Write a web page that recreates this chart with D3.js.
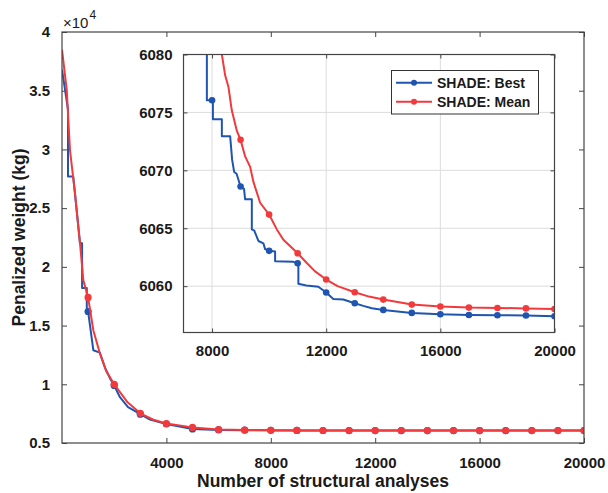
<!DOCTYPE html>
<html>
<head>
<meta charset="utf-8">
<script src="https://cdn.jsdelivr.net/npm/d3@7"></script>
<style>
  body { margin: 0; background: #fff; }
  text { font-family: "Liberation Sans", Arial, Helvetica, sans-serif; font-weight: bold; fill: #1a1a1a; }
</style>
</head>
<body>
<div id="chart"></div>
<script>
// ---------------------------------------------------------------- data (kg)
var bestIter = [0, 230, 230, 430, 690, 770, 770, 950, 950, 1000, 1200, 1450, 1650, 1840, 2000, 2220, 2530, 3000, 3370, 4000,
                5000, 6000, 7000, 7819, 7819, 8000, 8030, 8030, 8344, 8344, 8634, 8705, 8775, 8860, 9000, 9120, 9160, 9394,
                9394, 9480, 9625, 9800, 9860, 10000, 10210, 10210, 10850, 11000, 11025, 11025, 11300, 11725, 12000, 12250,
                12600, 13000, 13300, 13600, 14000, 15000, 16000, 17000, 18000, 19000, 20000];
var bestVal  = [36800, 33400, 27700, 27700, 22000, 22000, 18200, 18200, 16500, 16200, 12900, 12700, 11400, 10500, 9900, 8900,
                8050, 7450, 7000, 6620, 6200, 6110, 6090, 6084, 6076.05, 6076.05, 6076.0, 6074.4, 6074.4, 6072.95, 6072.95,
                6070.9, 6069.86, 6069.7, 6068.6, 6068.4, 6067.5, 6067.5, 6064.9, 6064.8, 6063.9, 6063.7, 6063.2, 6063.05,
                6063.0, 6062.15, 6062.1, 6061.98, 6061.95, 6060.2, 6060.05, 6059.95, 6059.45, 6058.9, 6058.85, 6058.52,
                6058.3, 6058.1, 6057.95, 6057.69, 6057.57, 6057.51, 6057.49, 6057.47, 6057.4];

var meanIter = [0, 180, 306, 498, 690, 816, 1000, 1200, 1455, 1700, 2000, 2500, 3000, 3500, 4000, 5000, 6000, 7000, 8000,
                8344, 8460, 8575, 8690, 8870, 9000, 9160, 9335, 9450, 9685, 10000, 10270, 10500, 11000, 11320, 11600,
                12000, 12400, 13000, 13500, 14000, 15000, 16000, 17000, 18000, 19000, 20000];
var meanVal  = [38500, 35100, 29950, 26260, 22000, 18870, 17400, 14600, 12600, 11100, 10000, 8500, 7530, 6980, 6660, 6330,
                6150, 6105, 6086, 6080, 6078.2, 6077.2, 6075.2, 6073.4, 6072.63, 6071.2, 6070.3, 6069.0, 6067.2, 6066.18,
                6064.9, 6064.0, 6062.84, 6062.0, 6061.3, 6060.57, 6060.0, 6059.47, 6059.1, 6058.84, 6058.41, 6058.24,
                6058.15, 6058.12, 6058.08, 6058.03];

var markerIter = [1000, 2000, 3000, 4000, 5000, 6000, 7000, 8000, 9000, 10000, 11000, 12000, 13000, 14000, 15000,
                  16000, 17000, 18000, 19000, 20000];

var mainXTicks  = [4000, 8000, 12000, 16000, 20000];
var mainYTicks  = [5000, 10000, 15000, 20000, 25000, 30000, 35000, 40000];
var insetXTicks = [8000, 12000, 16000, 20000];
var insetYTicks = [6060, 6065, 6070, 6075, 6080];

var seriesNames = ["SHADE: Best", "SHADE: Mean"];
var seriesColors = ["#1f55b0", "#f23a3c"];

// ---------------------------------------------------------------- setup
var W = 608, H = 493;
var svg = d3.select("#chart").append("svg").attr("width", W).attr("height", H);

var best = bestIter.map(function(d, i) { return {x: d, y: bestVal[i]}; });
var mean = meanIter.map(function(d, i) { return {x: d, y: meanVal[i]}; });
var series = [best, mean];

function drawPanel(g, box, xDom, yDom, xTicks, yTicks, fmtY, grid, id, tickLen, r) {
  var x = d3.scaleLinear().domain(xDom).range([box.l, box.r]);
  var y = d3.scaleLinear().domain(yDom).range([box.b, box.t]);

  g.append("rect").attr("x", box.l).attr("y", box.t)
    .attr("width", box.r - box.l).attr("height", box.b - box.t).attr("fill", "#fff");

  if (grid) {
    g.append("g").selectAll("line").data(xTicks).enter().append("line")
      .attr("x1", function(d) { return x(d); }).attr("x2", function(d) { return x(d); })
      .attr("y1", box.t).attr("y2", box.b).attr("stroke", "#dcdcdc").attr("stroke-width", 1);
    g.append("g").selectAll("line").data(yTicks).enter().append("line")
      .attr("y1", function(d) { return y(d); }).attr("y2", function(d) { return y(d); })
      .attr("x1", box.l).attr("x2", box.r).attr("stroke", "#dcdcdc").attr("stroke-width", 1);
  }

  // axes (ticks inward, MATLAB style)
  var ax = g.append("g").attr("transform", "translate(0," + box.b + ")")
    .call(d3.axisBottom(x).tickValues(xTicks).tickSize(-tickLen).tickPadding(tickLen + 9).tickFormat(d3.format("d")));
  var ay = g.append("g").attr("transform", "translate(" + box.l + ",0)")
    .call(d3.axisLeft(y).tickValues(yTicks).tickSize(-tickLen).tickPadding(tickLen + 7).tickFormat(fmtY));
  var at = g.append("g").attr("transform", "translate(0," + box.t + ")")
    .call(d3.axisTop(x).tickValues(xTicks).tickSize(-tickLen).tickFormat(""));
  var ar = g.append("g").attr("transform", "translate(" + box.r + ",0)")
    .call(d3.axisRight(y).tickValues(yTicks).tickSize(-tickLen).tickFormat(""));
  [ax, ay, at, ar].forEach(function(a) {
    a.select(".domain").remove();
    a.selectAll("line").attr("stroke", "#444");
    a.selectAll("text").style("font-size", "15px").attr("fill", "#1a1a1a");
  });

  var clip = g.append("clipPath").attr("id", id).append("rect")
    .attr("x", box.l).attr("y", box.t).attr("width", box.r - box.l).attr("height", box.b - box.t);
  var plot = g.append("g").attr("clip-path", "url(#" + id + ")");

  var line = d3.line().x(function(d) { return x(d.x); }).y(function(d) { return y(d.y); });
  series.forEach(function(s, k) {
    plot.append("path").datum(s).attr("d", line).attr("fill", "none")
      .attr("stroke", seriesColors[k]).attr("stroke-width", 2).attr("stroke-linejoin", "round");
    plot.selectAll(".m" + k).data(s.filter(function(d) { return markerIter.indexOf(d.x) >= 0; }))
      .enter().append("circle").attr("class", "m" + k)
      .attr("cx", function(d) { return x(d.x); }).attr("cy", function(d) { return y(d.y); })
      .attr("r", r).attr("fill", seriesColors[k]);
  });

  g.append("rect").attr("x", box.l).attr("y", box.t)
    .attr("width", box.r - box.l).attr("height", box.b - box.t)
    .attr("fill", "none").attr("stroke", "#444").attr("stroke-width", 1.2);
  return {x: x, y: y};
}

// ---------------------------------------------------------------- main axes
var mainBox = {l: 62, t: 32, r: 584, b: 443};
drawPanel(svg.append("g"), mainBox, [0, 20000], [5000, 40000], mainXTicks, mainYTicks,
  function(d) { return d3.format("~g")(d / 10000); }, false, "clipMain", 5, 3.6);

svg.append("text").attr("x", 63).attr("y", 28).style("font-size", "15px").style("font-weight", "normal")
  .text("\u00d710");
svg.append("text").attr("x", 89.5).attr("y", 19).style("font-size", "12px").style("font-weight", "normal")
  .text("4");

svg.append("text").attr("x", 323).attr("y", 487).attr("text-anchor", "middle")
  .style("font-size", "17.5px").text("Number of structural analyses");
svg.append("text").attr("transform", "translate(25,237.5) rotate(-90)").attr("text-anchor", "middle")
  .style("font-size", "17.5px").text("Penalized weight (kg)");

// ---------------------------------------------------------------- inset
var insetBox = {l: 183.5, t: 54.5, r: 554.5, b: 332.5};
drawPanel(svg.append("g"), insetBox, [7000, 20000], [6056, 6080], insetXTicks, insetYTicks,
  d3.format("d"), true, "clipInset", 4, 3.3);

// ---------------------------------------------------------------- legend
var lg = svg.append("g");
lg.append("rect").attr("x", 391.5).attr("y", 70.5).attr("width", 147).attr("height", 43.5)
  .attr("fill", "#fff").attr("stroke", "#333").attr("stroke-width", 1);
seriesNames.forEach(function(name, k) {
  var yy = 82.7 + k * 19;
  lg.append("line").attr("x1", 396).attr("x2", 432).attr("y1", yy).attr("y2", yy)
    .attr("stroke", seriesColors[k]).attr("stroke-width", 2);
  lg.append("circle").attr("cx", 414).attr("cy", yy).attr("r", 3).attr("fill", seriesColors[k]);
  lg.append("text").attr("x", 437).attr("y", yy + 5).style("font-size", "14px").text(name);
});
</script>
</body>
</html>
